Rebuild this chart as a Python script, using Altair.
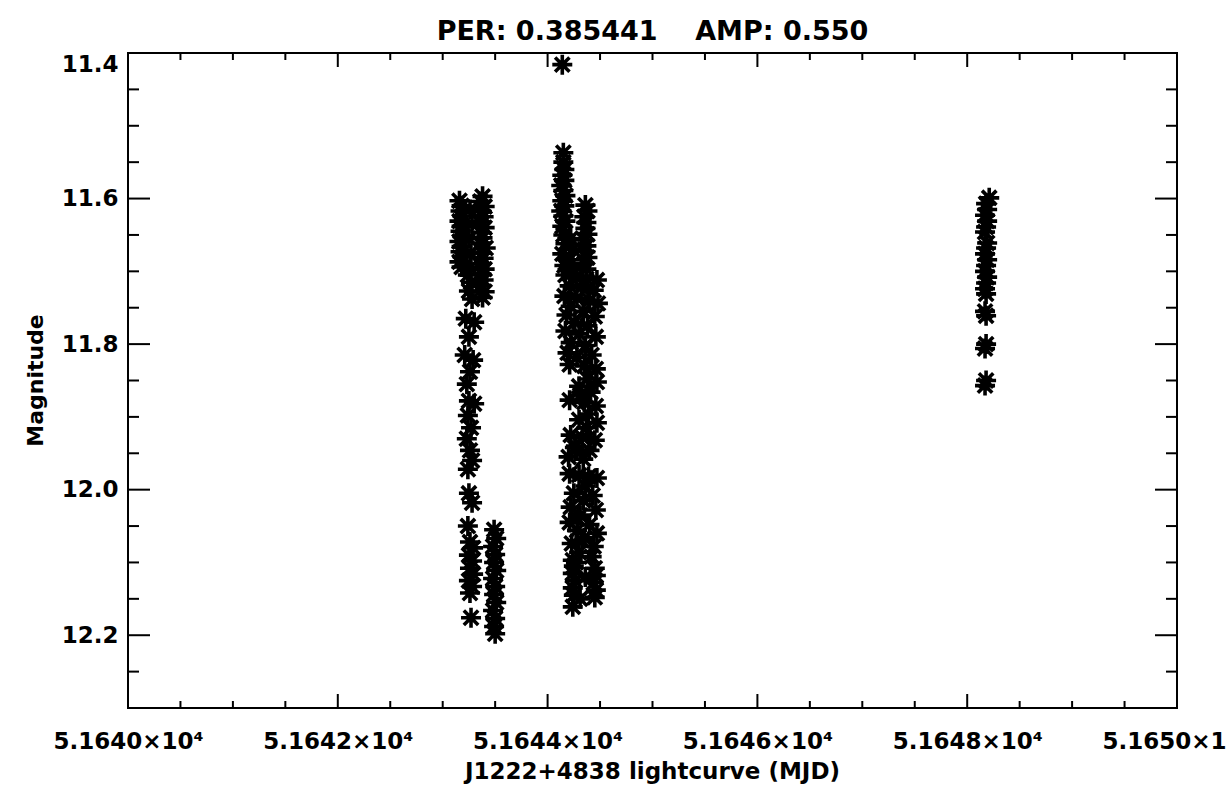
import altair as alt
import pandas as pd

# ---------------- data ----------------
mjd_n1 = [51643.16, 51643.18, 51643.17, 51643.19, 51643.16, 51643.18, 51643.17, 51643.19, 51643.16, 51643.18, 51643.17, 51643.19, 51643.16, 51643.18,
          51643.26, 51643.28, 51643.25, 51643.27, 51643.26, 51643.24, 51643.27, 51643.25, 51643.28,
          51643.38, 51643.36, 51643.40, 51643.37, 51643.39, 51643.35, 51643.40, 51643.37, 51643.38, 51643.36, 51643.41, 51643.37, 51643.39, 51643.35, 51643.40, 51643.37, 51643.39, 51643.36, 51643.40, 51643.38,
          51643.22, 51643.30, 51643.25, 51643.21, 51643.29, 51643.26, 51643.23, 51643.25, 51643.30, 51643.24, 51643.27, 51643.23, 51643.26, 51643.28, 51643.24, 51643.25, 51643.28, 51643.24,
          51643.26, 51643.29, 51643.25, 51643.28, 51643.26, 51643.29, 51643.25, 51643.28, 51643.26, 51643.27,
          51643.49, 51643.51, 51643.48, 51643.50, 51643.49, 51643.51, 51643.48, 51643.50, 51643.49, 51643.51, 51643.48, 51643.50, 51643.49, 51643.50]
mag_n1 = [11.603, 11.610, 11.617, 11.624, 11.631, 11.638, 11.645, 11.652, 11.659, 11.666, 11.673, 11.680, 11.687, 11.694,
          11.615, 11.635, 11.655, 11.675, 11.695, 11.705, 11.715, 11.727, 11.738,
          11.597, 11.604, 11.611, 11.618, 11.625, 11.632, 11.640, 11.647, 11.654, 11.661, 11.668, 11.675, 11.682, 11.690, 11.697, 11.704, 11.712, 11.720, 11.728, 11.736,
          11.765, 11.770, 11.790, 11.815, 11.822, 11.838, 11.855, 11.878, 11.882, 11.898, 11.915, 11.930, 11.946, 11.960, 11.972, 12.005, 12.018, 12.050,
          12.072, 12.080, 12.090, 12.098, 12.108, 12.116, 12.125, 12.133, 12.142, 12.176,
          12.055, 12.067, 12.078, 12.089, 12.100, 12.111, 12.122, 12.133, 12.144, 12.155, 12.166, 12.177, 12.188, 12.198]

mjd_n2 = [51644.14,
          51644.15, 51644.15, 51644.16,
          51644.14, 51644.16, 51644.13, 51644.15, 51644.17, 51644.14, 51644.16, 51644.13, 51644.15, 51644.17, 51644.14,
          51644.36, 51644.38, 51644.35, 51644.37, 51644.36, 51644.38, 51644.35, 51644.37, 51644.36, 51644.38, 51644.35, 51644.37,
          51644.15, 51644.22, 51644.17, 51644.24, 51644.14, 51644.21, 51644.16, 51644.25,
          51644.17, 51644.27, 51644.37, 51644.47, 51644.21, 51644.32, 51644.44, 51644.16, 51644.28, 51644.40, 51644.48, 51644.22,
          51644.34, 51644.18, 51644.45, 51644.26, 51644.38, 51644.17, 51644.30, 51644.46, 51644.22, 51644.36, 51644.19, 51644.42, 51644.28, 51644.21, 51644.35, 51644.46,
          51644.38, 51644.47, 51644.30, 51644.41, 51644.21, 51644.35, 51644.46, 51644.39, 51644.30, 51644.47, 51644.37,
          51644.22, 51644.33, 51644.45, 51644.26, 51644.40, 51644.20, 51644.34,
          51644.21, 51644.30, 51644.39, 51644.47,
          51644.25, 51644.43, 51644.34, 51644.22, 51644.46, 51644.31,
          51644.21, 51644.40, 51644.28, 51644.47, 51644.35, 51644.23, 51644.44, 51644.30, 51644.42, 51644.24,
          51644.25, 51644.45, 51644.24, 51644.46, 51644.26, 51644.44, 51644.24, 51644.46, 51644.25, 51644.45, 51644.24,
          51644.31, 51644.27, 51644.36, 51644.29, 51644.33, 51644.27, 51644.36, 51644.31]
mag_n2 = [11.416,
          11.537, 11.550, 11.560,
          11.568, 11.575, 11.582, 11.589, 11.596, 11.603, 11.610, 11.617, 11.624, 11.631, 11.638,
          11.609, 11.617, 11.625, 11.633, 11.641, 11.649, 11.657, 11.665, 11.673, 11.681, 11.689, 11.697,
          11.650, 11.655, 11.662, 11.670, 11.676, 11.684, 11.692, 11.698,
          11.705, 11.708, 11.710, 11.712, 11.720, 11.722, 11.726, 11.734, 11.737, 11.740, 11.744, 11.748,
          11.755, 11.760, 11.762, 11.770, 11.775, 11.782, 11.786, 11.790, 11.798, 11.802, 11.812, 11.815, 11.818, 11.828, 11.830, 11.834,
          11.848, 11.852, 11.858, 11.866, 11.877, 11.880, 11.885, 11.896, 11.904, 11.908, 11.915,
          11.925, 11.928, 11.932, 11.942, 11.946, 11.955, 11.958,
          11.978, 11.980, 11.982, 11.984,
          12.005, 12.008, 12.015, 12.024, 12.028, 12.035,
          12.045, 12.048, 12.056, 12.060, 12.066, 12.074, 12.078, 12.086, 12.092, 12.097,
          12.105, 12.108, 12.115, 12.118, 12.125, 12.128, 12.135, 12.138, 12.145, 12.148, 12.161,
          11.870, 11.940, 11.995, 12.040, 12.070, 12.100, 12.120, 12.150]

mjd_n3 = [51648.21, 51648.18, 51648.19, 51648.17, 51648.19, 51648.18, 51648.17, 51648.19, 51648.18, 51648.17, 51648.19, 51648.18,
          51648.17, 51648.19, 51648.18, 51648.17, 51648.18, 51648.17, 51648.18, 51648.18, 51648.17, 51648.18, 51648.17]
mag_n3 = [11.599, 11.607, 11.615, 11.623, 11.631, 11.639, 11.646, 11.661, 11.668, 11.676, 11.684, 11.692,
          11.700, 11.708, 11.716, 11.724, 11.731, 11.755, 11.761, 11.800, 11.806, 11.850, 11.857]

x_major = [51640, 51642, 51644, 51646, 51648, 51650]
x_minor = [51640.5, 51641.0, 51641.5, 51642.5, 51643.0, 51643.5, 51644.5, 51645.0,
           51645.5, 51646.5, 51647.0, 51647.5, 51648.5, 51649.0, 51649.5]
y_major = [11.4, 11.6, 11.8, 12.0, 12.2]
y_minor = [11.45, 11.5, 11.55, 11.65, 11.7, 11.75, 11.85, 11.9, 11.95, 12.05, 12.1, 12.15, 12.25]

title_text = "PER: 0.385441\u00a0\u00a0\u00a0\u00a0AMP: 0.550"
x_title = "J1222+4838 lightcurve (MJD)"
y_title = "Magnitude"

# ---------------- chart ----------------
W, H = 1049, 655
FONT = "DejaVu Sans"
FW = "bold"

points = pd.DataFrame({
    "mjd": mjd_n1 + mjd_n2 + mjd_n3,
    "mag": mag_n1 + mag_n2 + mag_n3,
})

xs = alt.Scale(domain=[51640, 51650], nice=False, zero=False)
ys = alt.Scale(domain=[11.4, 12.3], reverse=True, nice=False, zero=False)

x_axis = alt.Axis(
    values=x_major,
    labelExpr="format(datum.value / 10000, '.4f') + '\u00d710\u2074'",
    ticks=False, domain=False, grid=False,
    labelFont=FONT, labelFontSize=23, labelFontWeight=FW, labelColor="black",
    labelPadding=22, labelFlush=False, labelOverlap=False, labelBaseline="top",
    title=x_title, titleFont=FONT, titleFontSize=23, titleFontWeight=FW,
    titleColor="black", titleX=524, titleY=63, titleBaseline="middle", titleAlign="center",
)
y_axis = alt.Axis(
    values=y_major, format=".1f",
    ticks=False, domain=False, grid=False,
    labelFont=FONT, labelFontSize=23, labelFontWeight=FW, labelColor="black", labelPadding=10,
    labelFlush=False, labelOverlap=False,
    labelBaseline={"condition": {"test": "datum.value == 11.4", "value": "top"}, "value": "middle"},
    title=y_title, titleFont=FONT, titleFontSize=22, titleFontWeight=FW,
    titleColor="black", titleX=-93, titleY=327, titleAngle=270,
    titleBaseline="middle", titleAlign="center",
)

star = "M-1,0L1,0M0,-1L0,1M-0.72,-0.72L0.72,0.72M-0.72,0.72L0.72,-0.72"

pts = alt.Chart(points).mark_point(
    shape=star, filled=False, stroke="black", strokeWidth=3.6, size=400, opacity=1
).encode(
    x=alt.X("mjd:Q", scale=xs, axis=x_axis),
    y=alt.Y("mag:Q", scale=ys, axis=y_axis),
)


def xticks(vals, length, top):
    d = pd.DataFrame({"t": vals})
    if top:
        yy, yy2 = 0, length
    else:
        yy, yy2 = H, H - length
    return alt.Chart(d).mark_rule(color="black", strokeWidth=2).encode(
        x=alt.X("t:Q", scale=xs, axis=x_axis),
        y=alt.value(yy), y2=alt.value(yy2),
    )


def yticks(vals, length, left):
    d = pd.DataFrame({"t": vals})
    if left:
        xx, xx2 = 0, length
    else:
        xx, xx2 = W, W - length
    return alt.Chart(d).mark_rule(color="black", strokeWidth=2).encode(
        y=alt.Y("t:Q", scale=ys, axis=y_axis),
        x=alt.value(xx), x2=alt.value(xx2),
    )


chart = alt.layer(
    pts,
    xticks(x_major, 14, False), xticks(x_minor, 7, False),
    xticks(x_major, 14, True), xticks(x_minor, 7, True),
    yticks(y_major, 22, True), yticks(y_minor, 11, True),
    yticks(y_major, 22, False), yticks(y_minor, 11, False),
).properties(
    width=W, height=H,
    title=alt.Title(title_text, font=FONT, fontSize=27, fontWeight=FW,
                    color="black", anchor="middle", offset=1),
    autosize=alt.AutoSizeParams(type="none"),
    padding={"left": 128, "top": 53, "right": 50, "bottom": 80},
    background="white",
).configure_view(
    stroke="black", strokeWidth=2
)

chart.save("out.html", embed_options={"renderer": "svg", "actions": False})
